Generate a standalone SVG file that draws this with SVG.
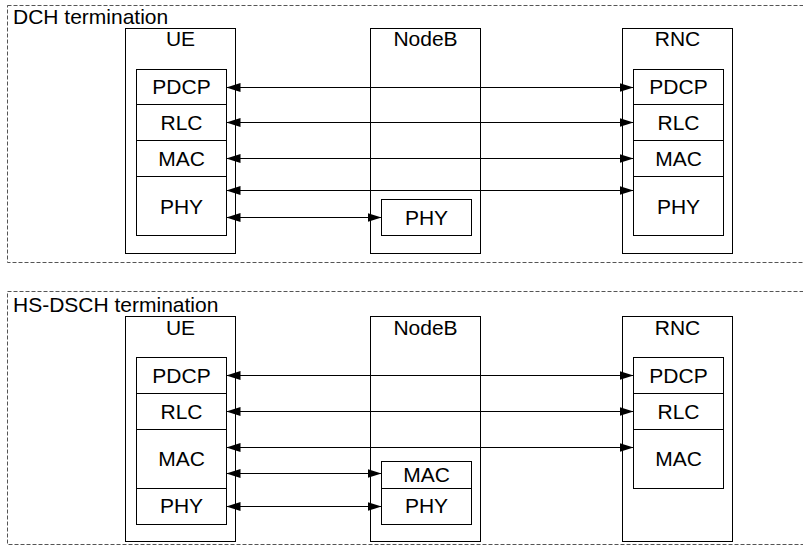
<svg xmlns="http://www.w3.org/2000/svg" width="803" height="549" viewBox="0 0 803 549">
<defs>
<marker id="ah" viewBox="0 0 14 9" markerUnits="userSpaceOnUse" markerWidth="14" markerHeight="9" refX="14" refY="4.5" orient="auto-start-reverse">
<path d="M0,0 L14,4.5 L0,9 z" fill="#000"/>
</marker>
</defs>
<style>
.panel{fill:none;stroke:#555;stroke-width:1;stroke-dasharray:4,2}
.box{fill:#fff;stroke:#000;stroke-width:1}
.t{font-family:"Liberation Sans",Arial,sans-serif;font-size:21px;fill:#000;text-anchor:middle}
.pt{font-family:"Liberation Sans",Arial,sans-serif;font-size:21px;fill:#000}
.c{stroke:#000;stroke-width:1;fill:none;marker-start:url(#ah);marker-end:url(#ah)}
</style>

<g id="panel-dch">
<rect class="panel" x="7.5" y="5.5" width="800" height="257"/>
<text class="pt" x="13" y="24">DCH termination</text>
</g>
<g id="panel-hsdsch">
<rect class="panel" x="7.5" y="291.5" width="800" height="253"/>
<text class="pt" x="13" y="311.5">HS-DSCH termination</text>
</g>

<!-- DCH panel nodes -->
<g id="ue1">
<rect class="box" x="125.5" y="28.5" width="110" height="225"/>
<text class="t" x="180.5" y="46">UE</text>
<rect class="box" x="136.5" y="69.5" width="90" height="35"/>
<text class="t" x="181.5" y="93.5">PDCP</text>
<rect class="box" x="136.5" y="104.5" width="90" height="36"/>
<text class="t" x="181.5" y="129.5">RLC</text>
<rect class="box" x="136.5" y="140.5" width="90" height="36"/>
<text class="t" x="181.5" y="165.5">MAC</text>
<rect class="box" x="136.5" y="176.5" width="90" height="59"/>
<text class="t" x="181.5" y="213.5">PHY</text>
</g>
<g id="nodeb1">
<rect class="box" x="370.5" y="28.5" width="110" height="225"/>
<text class="t" x="425.5" y="46">NodeB</text>
<rect class="box" x="381.5" y="199.5" width="90" height="36"/>
<text class="t" x="426.5" y="224.5">PHY</text>
</g>
<g id="rnc1">
<rect class="box" x="622.5" y="28.5" width="110" height="225"/>
<text class="t" x="677.5" y="46">RNC</text>
<rect class="box" x="633.5" y="69.5" width="90" height="35"/>
<text class="t" x="678.5" y="93.5">PDCP</text>
<rect class="box" x="633.5" y="104.5" width="90" height="36"/>
<text class="t" x="678.5" y="129.5">RLC</text>
<rect class="box" x="633.5" y="140.5" width="90" height="36"/>
<text class="t" x="678.5" y="165.5">MAC</text>
<rect class="box" x="633.5" y="176.5" width="90" height="59"/>
<text class="t" x="678.5" y="213.5">PHY</text>
</g>

<!-- HS-DSCH panel nodes -->
<g id="ue2">
<rect class="box" x="125.5" y="316.5" width="110" height="225"/>
<text class="t" x="180.5" y="335">UE</text>
<rect class="box" x="136.5" y="357.5" width="90" height="36"/>
<text class="t" x="181.5" y="382.5">PDCP</text>
<rect class="box" x="136.5" y="393.5" width="90" height="36"/>
<text class="t" x="181.5" y="418.5">RLC</text>
<rect class="box" x="136.5" y="429.5" width="90" height="59"/>
<text class="t" x="181.5" y="465.5">MAC</text>
<rect class="box" x="136.5" y="488.5" width="90" height="36"/>
<text class="t" x="181.5" y="512.5">PHY</text>
</g>
<g id="nodeb2">
<rect class="box" x="370.5" y="316.5" width="110" height="225"/>
<text class="t" x="425.5" y="335">NodeB</text>
<rect class="box" x="381.5" y="461.5" width="90" height="27"/>
<text class="t" x="426.5" y="481.5">MAC</text>
<rect class="box" x="381.5" y="488.5" width="90" height="36"/>
<text class="t" x="426.5" y="512.5">PHY</text>
</g>
<g id="rnc2">
<rect class="box" x="622.5" y="316.5" width="110" height="225"/>
<text class="t" x="677.5" y="335">RNC</text>
<rect class="box" x="633.5" y="357.5" width="90" height="36"/>
<text class="t" x="678.5" y="382.5">PDCP</text>
<rect class="box" x="633.5" y="393.5" width="90" height="36"/>
<text class="t" x="678.5" y="418.5">RLC</text>
<rect class="box" x="633.5" y="429.5" width="90" height="59"/>
<text class="t" x="678.5" y="465.5">MAC</text>
</g>

<g id="connectors">
<line class="c" x1="226.5" y1="87.5" x2="633.5" y2="87.5"/>
<line class="c" x1="226.5" y1="122.5" x2="633.5" y2="122.5"/>
<line class="c" x1="226.5" y1="158.5" x2="633.5" y2="158.5"/>
<line class="c" x1="226.5" y1="190.5" x2="633.5" y2="190.5"/>
<line class="c" x1="226.5" y1="217.5" x2="381.5" y2="217.5"/>
<line class="c" x1="226.5" y1="375.5" x2="633.5" y2="375.5"/>
<line class="c" x1="226.5" y1="411.5" x2="633.5" y2="411.5"/>
<line class="c" x1="226.5" y1="447.5" x2="633.5" y2="447.5"/>
<line class="c" x1="226.5" y1="473.5" x2="381.5" y2="473.5"/>
<line class="c" x1="226.5" y1="506.5" x2="381.5" y2="506.5"/>
</g>
</svg>
